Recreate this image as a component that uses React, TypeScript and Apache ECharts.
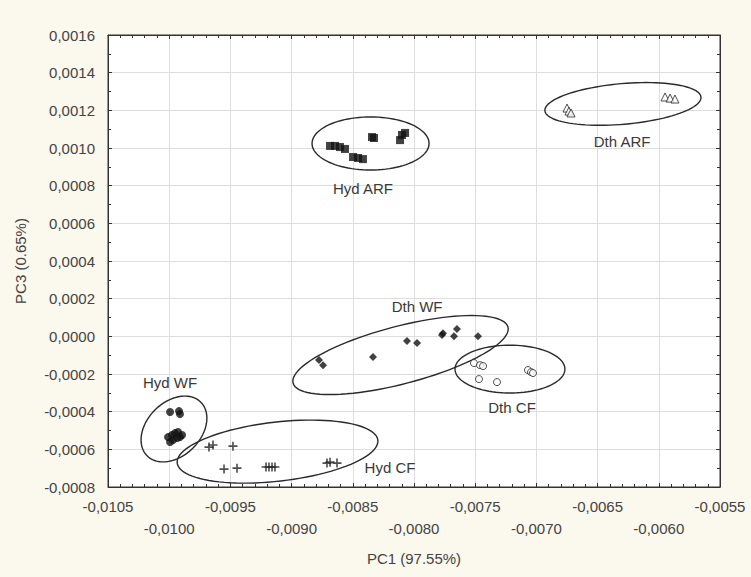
import React, { useEffect, useRef } from 'react';
import * as echarts from 'echarts';

const hydARF = [
  [-0.008686, 0.001011], [-0.008645, 0.001011], [-0.008605, 0.001005], [-0.008564, 0.000995],
  [-0.008498, 0.000952], [-0.008457, 0.000947], [-0.008417, 0.000941], [-0.008343, 0.001058],
  [-0.008327, 0.001053], [-0.008114, 0.001042], [-0.008098, 0.001069], [-0.008073, 0.00108],
];
const dthARF = [
  [-0.00675, 0.001212], [-0.006734, 0.001196], [-0.006717, 0.001186],
  [-0.005949, 0.001271], [-0.005908, 0.001265], [-0.005868, 0.00126],
];
const dthWF = [
  [-0.008776, -0.000126], [-0.008743, -0.000153], [-0.008335, -0.00011], [-0.008057, -0.000025],
  [-0.007975, -0.000036], [-0.007771, 0.000007], [-0.007763, 0.000017], [-0.007673, 0.000001],
  [-0.007649, 0.000039], [-0.007477, 0.000001],
];
const dthCF = [
  [-0.00751, -0.000142], [-0.007461, -0.000153], [-0.007436, -0.000158], [-0.007469, -0.000227],
  [-0.007322, -0.000243], [-0.007069, -0.000179], [-0.007044, -0.00019], [-0.007028, -0.000195],
];
const hydWF = [
  [-0.009993, -0.000402], [-0.00992, -0.000397], [-0.009912, -0.000413], [-0.01001, -0.000535],
  [-0.009977, -0.000524], [-0.009953, -0.000514], [-0.009928, -0.000508], [-0.009895, -0.000524],
  [-0.009969, -0.000551], [-0.009993, -0.000561], [-0.009936, -0.00054], [-0.009912, -0.000535],
];
const hydCF = [
  [-0.009675, -0.000588], [-0.009642, -0.000577], [-0.009479, -0.000583], [-0.009552, -0.000705],
  [-0.009446, -0.0007], [-0.009209, -0.000694], [-0.009185, -0.000694], [-0.00916, -0.000694],
  [-0.009136, -0.000694], [-0.008711, -0.000673], [-0.008686, -0.000668], [-0.008629, -0.000673],
];

// group ellipses: [centerX, centerY, semiAxisX (x units), semiAxisY (y units), tilt deg]
const groupEllipses = [
  [-0.008355, 0.001024, 0.000478, 0.000141, 0],
  [-0.006293, 0.001234, 0.00064, 0.000108, 5],
  [-0.00811, -0.0000994, 0.000907, 0.000153, 14.6],
  [-0.007216, -0.000174, 0.000449, 0.000127, 0],
  [-0.009961, -0.000492, 0.00031, 0.000143, 45],
  [-0.009115, -0.000612, 0.000825, 0.000157, 6.5],
];
const groupNames = ['Hyd ARF', 'Dth ARF', 'Dth WF', 'Dth CF', 'Hyd WF', 'Hyd CF'];
const groupLabelAt = [
  [-0.008417, 0.000787],
  [-0.0063, 0.001032],
  [-0.007975, 0.000156],
  [-0.007199, -0.000376],
  [-0.009993, -0.000243],
  [-0.008196, -0.000694],
];

const X_MIN = -0.0105, X_MAX = -0.0055, X_STEP = 0.0005;
const Y_MIN = -0.0008, Y_MAX = 0.0016, Y_STEP = 0.0002;

const fmt = (v: number) => {
  const n = Math.abs(v) < 1e-10 ? 0 : v;
  return n.toFixed(4).replace('.', ',');
};

const FONT = 'Liberation Sans, Arial, sans-serif';
const BG = '#fbf8ee';

export default function App() {
  const ref = useRef<HTMLDivElement>(null);
  useEffect(() => {
    document.body.style.margin = '0';
    document.body.style.background = BG;
    const chart = echarts.init(ref.current!, null, { renderer: 'svg' });
    const tickCommon = {
      axisTick: { show: true, inside: true, length: 4, lineStyle: { color: '#333' } },
      minorTick: { show: true, length: 3, lineStyle: { color: '#333' } },
      axisLine: { show: true, onZero: false, lineStyle: { color: '#333', width: 1 } },
    };
    const plusPath = 'path://M4.1,0H5.9V4.1H10V5.9H5.9V10H4.1V5.9H0V4.1H4.1Z';
    chart.setOption({
      animation: false,
      backgroundColor: BG,
      textStyle: { fontFamily: FONT },
      grid: {
        left: 108, top: 35, width: 612, height: 452,
        show: true, backgroundColor: '#ffffff', borderColor: '#333', borderWidth: 1,
      },
      xAxis: [
        {
          type: 'value', min: X_MIN, max: X_MAX, interval: X_STEP,
          ...tickCommon,
          minorTick: { ...tickCommon.minorTick, splitNumber: 5 },
          splitLine: { show: true, lineStyle: { color: '#dedede' } },
          axisLabel: {
            margin: 8, fontSize: 15, color: '#444', fontFamily: FONT, lineHeight: 22,
            formatter: (v: number, i: number) => (i % 2 === 1 ? '\n' + fmt(v) : fmt(v)),
          },
          name: 'PC1 (97.55%)', nameLocation: 'middle', nameGap: 64,
          nameTextStyle: { fontSize: 15, color: '#444', fontFamily: FONT },
        },
        {
          type: 'value', position: 'top', min: X_MIN, max: X_MAX, interval: X_STEP,
          ...tickCommon,
          minorTick: { ...tickCommon.minorTick, splitNumber: 5 },
          splitLine: { show: false }, axisLabel: { show: false },
        },
      ],
      yAxis: [
        {
          type: 'value', min: Y_MIN, max: Y_MAX, interval: Y_STEP,
          ...tickCommon,
          minorTick: { ...tickCommon.minorTick, splitNumber: 2 },
          splitLine: { show: true, lineStyle: { color: '#dedede' } },
          axisLabel: { margin: 13, fontSize: 15, color: '#444', fontFamily: FONT, formatter: fmt },
          name: 'PC3 (0.65%)', nameLocation: 'middle', nameGap: 80,
          nameTextStyle: { fontSize: 15, color: '#444', fontFamily: FONT },
        },
        {
          type: 'value', position: 'right', min: Y_MIN, max: Y_MAX, interval: Y_STEP,
          ...tickCommon,
          minorTick: { ...tickCommon.minorTick, splitNumber: 2 },
          splitLine: { show: false }, axisLabel: { show: false },
        },
      ],
      series: [
        {
          type: 'custom', name: 'ellipses', clip: false, silent: true, z: 1,
          data: groupEllipses,
          renderItem: (_p: any, api: any) => {
            const c = api.coord([api.value(0), api.value(1)]);
            const rx = api.size([api.value(2), 0])[0];
            const ry = api.size([0, api.value(3)])[1];
            const a = (api.value(4) * Math.PI) / 180;
            const pts: number[][] = [];
            for (let i = 0; i < 96; i++) {
              const t = (i / 96) * Math.PI * 2;
              const ex = rx * Math.cos(t), ey = ry * Math.sin(t);
              pts.push([c[0] + ex * Math.cos(a) - ey * Math.sin(a), c[1] - (ex * Math.sin(a) + ey * Math.cos(a))]);
            }
            return { type: 'polygon', shape: { points: pts }, style: { fill: 'none', stroke: '#2a2a2a', lineWidth: 1.4 } };
          },
        },
        {
          type: 'custom', name: 'labels', clip: false, silent: true, z: 3,
          data: groupLabelAt,
          renderItem: (p: any, api: any) => {
            const c = api.coord([api.value(0), api.value(1)]);
            return {
              type: 'text', x: c[0], y: c[1],
              style: {
                text: groupNames[p.dataIndex], fill: '#3a3a3a', fontSize: 15, fontFamily: FONT,
                align: 'center', verticalAlign: 'middle',
              },
            };
          },
        },
        { type: 'scatter', name: 'Hyd ARF', data: hydARF, symbol: 'rect', symbolSize: 8, itemStyle: { color: '#111' }, z: 2 },
        { type: 'scatter', name: 'Dth ARF', data: dthARF, symbol: 'triangle', symbolSize: 8, itemStyle: { color: '#fff', borderColor: '#222', borderWidth: 1 }, z: 2 },
        { type: 'scatter', name: 'Dth WF', data: dthWF, symbol: 'diamond', symbolSize: 8, itemStyle: { color: '#111' }, z: 2 },
        { type: 'scatter', name: 'Dth CF', data: dthCF, symbol: 'circle', symbolSize: 7, itemStyle: { color: '#fff', borderColor: '#222', borderWidth: 1 }, z: 2 },
        { type: 'scatter', name: 'Hyd WF', data: hydWF, symbol: 'circle', symbolSize: 8, itemStyle: { color: '#111' }, z: 2 },
        { type: 'scatter', name: 'Hyd CF', data: hydCF, symbol: plusPath, symbolSize: 9, itemStyle: { color: '#222' }, z: 2 },
      ],
    });
    return () => chart.dispose();
  }, []);
  return <div ref={ref} style={{ width: 751, height: 577, background: BG }} />;
}
